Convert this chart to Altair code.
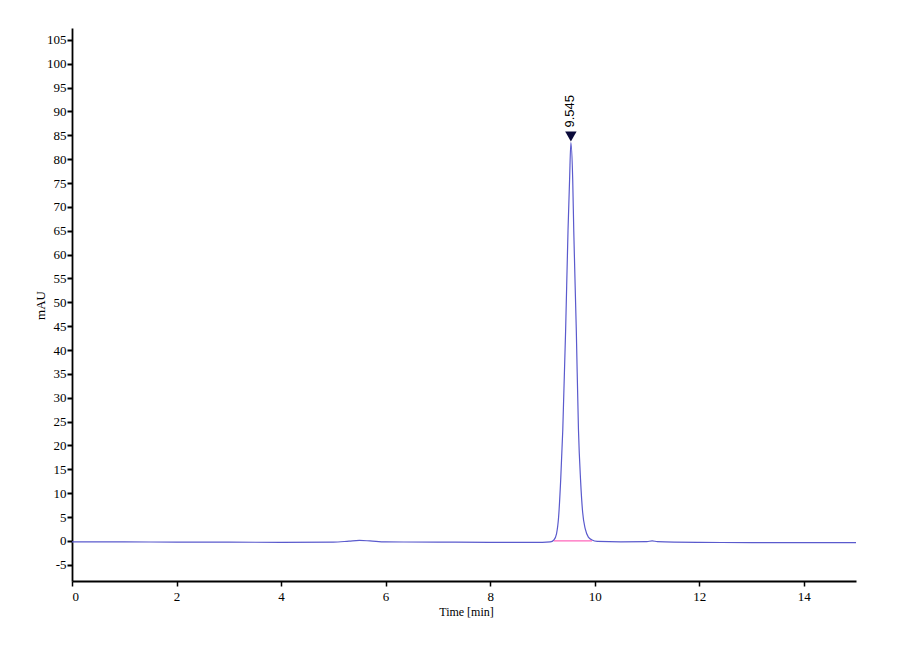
import altair as alt
import pandas as pd

# chromatogram trace
time_min = [0.0, 1.0, 2.0, 3.0, 4.0, 5.0, 5.3, 5.5, 5.7, 6.0, 7.0, 8.0, 9.0, 9.15,
            9.22, 9.27, 9.31, 9.35, 9.39, 9.444, 9.49, 9.52, 9.545, 9.58, 9.60,
            9.649, 9.69, 9.73, 9.77, 9.82, 9.88, 9.95, 10.05, 10.5, 11.0, 11.1,
            11.2, 12.0, 13.0, 14.0, 15.0]
mau = [-0.2, -0.2, -0.25, -0.25, -0.3, -0.25, -0.05, 0.1, 0.0, -0.2, -0.25, -0.3, -0.3, -0.2,
       0.2, 1.5, 5.0, 12.8, 23.3, 44.0, 65.0, 75.7, 83.5, 75.7, 65.0,
       44.0, 23.3, 12.8, 6.0, 2.5, 0.8, 0.2, -0.1, -0.2, -0.15, 0.0,
       -0.15, -0.3, -0.35, -0.35, -0.35]

peak_time = [9.545]
peak_height = [83.5]
peak_label = ["9.545"]

base_start = [9.22]
base_end = [9.95]
base_level = [0.0]

x_ticks = [0, 2, 4, 6, 8, 10, 12, 14]
y_ticks = list(range(-5, 106, 5))

trace = pd.DataFrame({"t": time_min, "v": mau})
peak = pd.DataFrame({"t": peak_time, "v": peak_height, "label": peak_label})
base = pd.DataFrame({"t": base_start, "t2": base_end, "v": base_level})

serif = "Liberation Serif"

x_scale = alt.Scale(domain=[0, 15], nice=False, zero=False)
y_scale = alt.Scale(domain=[-8.4, 107.5], nice=False, zero=False)

x_axis = alt.Axis(values=x_ticks, tickCount=20, title="Time [min]", grid=False, tickSize=5,
                  tickColor="black", tickWidth=1.5, domainColor="black", domainWidth=1.8,
                  labelFont=serif, labelFontSize=13, labelColor="black", labelPadding=4,
                  labelOverlap=False, labelExpr="'' + datum.value",
                  titleFont=serif, titleFontSize=12, titleFontWeight="normal",
                  titleColor="black", titleX=394, titleY=30, titleBaseline="middle")
y_axis = alt.Axis(values=y_ticks, tickCount=40, title="mAU", grid=False, tickSize=5,
                  tickColor="black", tickWidth=2, domainColor="black", domainWidth=1.8,
                  labelFont=serif, labelFontSize=13, labelColor="black", labelPadding=1,
                  labelOverlap=False, labelExpr="'' + datum.value",
                  titleFont=serif, titleFontSize=13, titleFontWeight="normal",
                  titleColor="black", titleAngle=270, titleX=-32, titleY=277,
                  titleBaseline="middle", titleAlign="center")

line = alt.Chart(trace).mark_line(color="#5a5acd", strokeWidth=1.2,
                                  interpolate="monotone").encode(
    x=alt.X("t:Q", scale=x_scale, axis=x_axis),
    y=alt.Y("v:Q", scale=y_scale, axis=y_axis),
)

baseline = alt.Chart(base).mark_rule(color="#ff66bb", strokeWidth=1.2).encode(
    x=alt.X("t:Q", scale=x_scale),
    x2="t2:Q",
    y=alt.Y("v:Q", scale=y_scale),
)

marker = alt.Chart(peak).mark_point(shape="triangle-down", filled=True, color="#0a0a3a",
                                    size=130, opacity=1, yOffset=-6).encode(
    x=alt.X("t:Q", scale=x_scale),
    y=alt.Y("v:Q", scale=y_scale),
)

label = alt.Chart(peak).mark_text(angle=270, align="left", baseline="middle",
                                  font="Liberation Sans", fontSize=13, color="black",
                                  dx=15, dy=-1).encode(
    x=alt.X("t:Q", scale=x_scale),
    y=alt.Y("v:Q", scale=y_scale),
    text="label:N",
)

chart = alt.layer(line, baseline, marker, label).properties(
    width=784, height=553,
    padding={"left": 64, "top": 20, "right": 30, "bottom": 40},
    autosize=alt.AutoSizeParams(type="none"),
    background="white",
).configure_view(stroke=None)

chart.save("out.html", embed_options={"renderer": "svg", "actions": False})
